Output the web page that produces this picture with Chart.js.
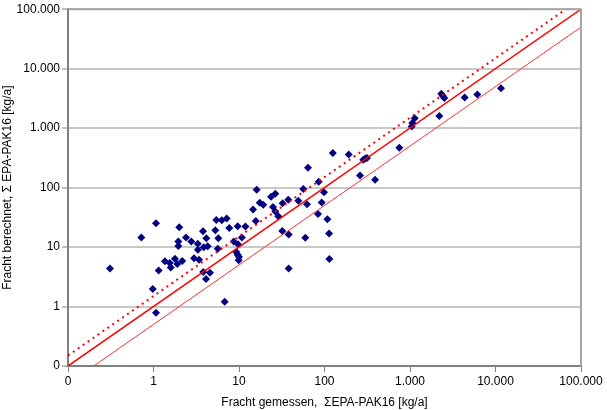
<!DOCTYPE html>
<html>
<head>
<meta charset="utf-8">
<script src="https://cdn.jsdelivr.net/npm/chart.js@4"></script>
<style>
  body { margin: 0; background: #fff; }
</style>
</head>
<body>
<canvas id="myChart" width="607" height="410"></canvas>
<script>
// measured vs calculated load, sum EPA-PAK16 [kg/a]
const measured = [
  0.31, 0.72, 1.07, 0.98, 1.07, 1.15, 1.36, 1.55, 1.59, 1.78,
  1.9, 1.95, 1.95, 2.0, 2.17, 2.4, 2.77, 3.29, 3.31, 2.98,
  3.41, 3.79, 4.15, 3.87, 4.3, 3.82, 4.58, 4.11, 5.43, 6.28,
  7.18, 5.28, 5.73, 5.64, 6.8, 7.7, 9.66, 11.9, 8.67, 9.73,
  10.8, 9.3, 9.66, 10.0, 9.92, 14.6, 16.1, 17.5, 19.2, 15.7,
  23.7, 26.6, 25.0, 26.6, 28.8, 32.4, 37.7, 49.4, 62.4, 56.5,
  64.1, 85.5, 98.6, 92.7, 83.9, 108, 32.1, 38.1, 59.6, 113,
  114, 38.1, 125, 192, 284, 300, 314, 750, 260, 390,
  1047, 1064, 1135, 2323, 2412, 2518, 4365, 6124, 11590, 2203
];
const calculated = [
  4.35, 14.5, 25.1, 1.97, 0.785, 4.03, 5.78, 5.41, 4.52, 6.38,
  5.21, 12.4, 10.4, 21.5, 5.84, 14.5, 12.4, 11.4, 9.0, 6.48,
  6.14, 18.5, 14.1, 9.9, 10.3, 3.79, 3.69, 2.9, 28.5, 28.2,
  30.1, 19.2, 14.1, 9.37, 1.2, 21.0, 22.4, 22.1, 12.4, 11.2,
  14.5, 8.25, 7.44, 6.81, 6.0, 43.0, 91.6, 55.6, 51.5, 27.4,
  70.0, 78.5, 47.0, 39.8, 32.9, 54.7, 62.4, 60.0, 52.7, 95.1,
  215, 126, 83.5, 56.2, 35.9, 29.3, 18.7, 16.3, 14.3, 16.9,
  6.31, 4.35, 383, 359, 293, 308, 316, 470, 160, 136,
  1067, 1225, 1468, 3786, 3508, 3200, 3285, 3687, 4700, 1603
];

// reference lines (end points)
const lineEqual = [[0.1, 0.1], [100000, 100000]];
const lineUpper = [[0.1, 0.15], [66667, 100000]];
const lineLower = [[0.2, 0.1], [100000, 50000]];

// axis ticks, 0.1 is shown as "0"
const tickValues = [0.1, 1, 10, 100, 1000, 10000, 100000];

function fmt(v) {
  if (v < 1) return "0";
  return String(Math.round(v)).replace(/\B(?=(\d{3})+(?!\d))/g, ".");
}

const toXY = (arr) => arr.map((p) => ({ x: p[0], y: p[1] }));

//top and right frame
const plotFrame = {
  id: "plotFrame",
  afterDraw(chart) {
    const { ctx, chartArea } = chart;
    ctx.save();
    ctx.strokeStyle = "#a6a6a6";
    ctx.lineWidth = 2;
    ctx.beginPath();
    ctx.moveTo(chartArea.left, chartArea.top);
    ctx.lineTo(chartArea.right, chartArea.top);
    ctx.lineTo(chartArea.right, chartArea.bottom);
    ctx.stroke();
    ctx.restore();
  },
};

Chart.defaults.font.family = "'Liberation Sans', Arial, sans-serif";
Chart.defaults.font.size = 12;
Chart.defaults.color = "#000";

var ctx = document.getElementById("myChart").getContext("2d");

var chart = new Chart(ctx, {
  type: "scatter",
  data: {
    datasets: [
      {
        type: "line",
        data: toXY(lineUpper),
        borderColor: "#ff0000",
        borderWidth: 2,
        borderDash: [2, 4],
        pointRadius: 0,
        fill: false,
      },
      {
        type: "line",
        data: toXY(lineEqual),
        borderColor: "#ff0000",
        borderWidth: 1.5,
        pointRadius: 0,
        fill: false,
      },
      {
        type: "line",
        data: toXY(lineLower),
        borderColor: "#ff3030",
        borderWidth: 1,
        pointRadius: 0,
        fill: false,
      },
      {
        data: measured.map((x, i) => ({ x: x, y: calculated[i] })),
        pointStyle: "rectRot",
        pointRadius: 4,
        pointBackgroundColor: "#000080",
        pointBorderColor: "#000080",
        pointBorderWidth: 0,
      },
    ],
  },
  options: {
    responsive: false,
    animation: false,
    layout: {
      padding: { top: 6, right: 26, left: 0, bottom: 0 },
    },
    plugins: {
      legend: { display: false },
      tooltip: { enabled: false },
    },
    scales: {
      x: {
        type: "logarithmic",
        min: 0.1,
        max: 100000,
        afterBuildTicks(scale) {
          scale.ticks = tickValues.map((v) => ({ value: v }));
        },
        afterFit(scale) {
          scale.height = 44;
        },
        ticks: {
          callback: (v) => fmt(v),
          maxRotation: 0,
          padding: 2,
        },
        grid: {
          drawOnChartArea: false,
          tickLength: 6,
          tickColor: "#808080",
          tickWidth: 1,
        },
        border: { color: "#808080", width: 2 },
        title: {
          display: true,
          text: "Fracht gemessen,  \u03a3EPA-PAK16 [kg/a]",
          padding: { top: 0, bottom: 0 },
        },
      },
      y: {
        type: "logarithmic",
        min: 0.1,
        max: 100000,
        afterBuildTicks(scale) {
          scale.ticks = tickValues.map((v) => ({ value: v }));
        },
        afterFit(scale) {
          scale.width = 68;
        },
        ticks: {
          callback: (v) => fmt(v),
          padding: 2,
        },
        grid: {
          color: "#c8c8c8",
          lineWidth: 2,
          tickLength: 6,
          tickColor: "#808080",
          tickWidth: 1,
        },
        border: { color: "#808080", width: 2 },
        title: {
          display: true,
          text: "Fracht berechnet, \u03a3 EPA-PAK16 [kg/a]",
          padding: { top: 0, bottom: 0 },
        },
      },
    },
  },
  plugins: [plotFrame],
});
</script>
</body>
</html>
